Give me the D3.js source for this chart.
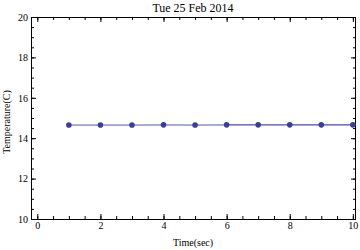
<!DOCTYPE html>
<html>
<head>
<meta charset="utf-8">
<script src="https://cdn.jsdelivr.net/npm/d3@7"></script>
<style>
  body { margin: 0; background: #fff; }
  text { font-family: "Liberation Serif", "DejaVu Serif", serif; fill: #000; }
</style>
</head>
<body>
<div id="chart"></div>
<script>
// data
var times = [1, 2, 3, 4, 5, 6, 7, 8, 9, 10];
var temps = [14.65, 14.65, 14.65, 14.66, 14.65, 14.66, 14.66, 14.66, 14.66, 14.66];
var xTicks = [0, 2, 4, 6, 8, 10];
var yTicks = [10, 12, 14, 16, 18, 20];
var titleText = "Tue 25 Feb 2014";

var width = 360, height = 250;
var plot = {left: 31, right: 356, top: 17, bottom: 219};

var svg = d3.select("#chart")
  .append("svg")
    .attr("width", width)
    .attr("height", height);

var x = d3.scaleLinear().domain([-0.2, 10.1]).range([plot.left, plot.right]);
var y = d3.scaleLinear().domain([10, 20]).range([plot.bottom, plot.top]);

var minorX = d3.range(0, 10.01, 0.5);
var minorY = d3.range(10, 20.01, 0.5);

function noDomain(g) { g.select(".domain").remove(); }

// bottom axis (ticks inward)
svg.append("g")
  .attr("transform", "translate(0," + plot.bottom + ")")
  .call(d3.axisBottom(x).tickValues(minorX).tickSize(-3).tickFormat(""))
  .call(noDomain);
svg.append("g")
  .attr("transform", "translate(0," + plot.bottom + ")")
  .call(d3.axisBottom(x).tickValues(xTicks).tickSize(-5).tickPadding(3).tickFormat(d3.format("d")))
  .call(function(g) {
    noDomain(g);
    g.selectAll("text").style("font-size", "10px");
  });

// top axis
svg.append("g")
  .attr("transform", "translate(0," + plot.top + ")")
  .call(d3.axisTop(x).tickValues(minorX).tickSize(-3).tickFormat(""))
  .call(noDomain);
svg.append("g")
  .attr("transform", "translate(0," + plot.top + ")")
  .call(d3.axisTop(x).tickValues(xTicks).tickSize(-5).tickFormat(""))
  .call(noDomain);

// left axis
svg.append("g")
  .attr("transform", "translate(" + plot.left + ",0)")
  .call(d3.axisLeft(y).tickValues(minorY).tickSize(-3).tickFormat(""))
  .call(noDomain);
svg.append("g")
  .attr("transform", "translate(" + plot.left + ",0)")
  .call(d3.axisLeft(y).tickValues(yTicks).tickSize(-5).tickPadding(3).tickFormat(d3.format("d")))
  .call(function(g) {
    noDomain(g);
    g.selectAll("text").style("font-size", "10px");
  });

// right axis
svg.append("g")
  .attr("transform", "translate(" + plot.right + ",0)")
  .call(d3.axisRight(y).tickValues(minorY).tickSize(-3).tickFormat(""))
  .call(noDomain);
svg.append("g")
  .attr("transform", "translate(" + plot.right + ",0)")
  .call(d3.axisRight(y).tickValues(yTicks).tickSize(-5).tickFormat(""))
  .call(noDomain);

svg.selectAll(".tick line").attr("stroke", "#000");

// frame
svg.append("rect")
  .attr("x", plot.left + 0.5)
  .attr("y", plot.top + 0.5)
  .attr("width", plot.right - plot.left - 1)
  .attr("height", plot.bottom - plot.top)
  .attr("fill", "none")
  .attr("stroke", "#000")
  .attr("stroke-width", 1);

// line (first part lighter, as in the picture)
var pts = times.map(function(t, i) { return [t, temps[i]]; });
var line = d3.line()
  .x(function(d) { return x(d[0]); })
  .y(function(d) { return y(d[1]); });
var split = 5;

svg.append("path")
  .datum(pts.slice(0, split + 1))
  .attr("d", line)
  .attr("fill", "none")
  .attr("stroke", "#a0a0d0")
  .attr("stroke-width", 1.8);

svg.append("path")
  .datum(pts.slice(split))
  .attr("d", line)
  .attr("fill", "none")
  .attr("stroke", "#4a4aa8")
  .attr("stroke-width", 1.2);

svg.selectAll("circle.pt")
  .data(pts)
  .enter()
  .append("circle")
    .attr("class", "pt")
    .attr("cx", function(d) { return x(d[0]); })
    .attr("cy", function(d) { return y(d[1]); })
    .attr("r", 2.8)
    .attr("fill", "#3c3c9c");

// title and labels
svg.append("text")
  .attr("x", 193)
  .attr("y", 12)
  .attr("text-anchor", "middle")
  .style("font-size", "12px")
  .text(titleText);

svg.append("text")
  .attr("x", 193)
  .attr("y", 246)
  .attr("text-anchor", "middle")
  .style("font-size", "10px")
  .text("Time(sec)");

svg.append("text")
  .attr("transform", "translate(10,122)rotate(-90)")
  .attr("text-anchor", "middle")
  .style("font-size", "10px")
  .text("Temperature(C)");
</script>
</body>
</html>
